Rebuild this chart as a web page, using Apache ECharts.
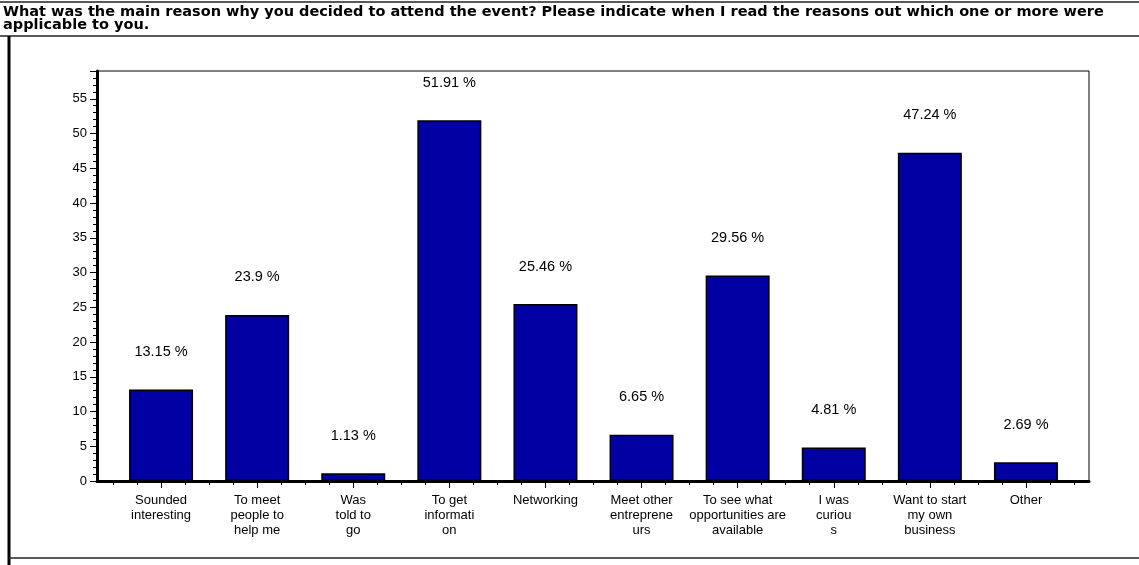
<!DOCTYPE html>
<html>
<head>
<meta charset="utf-8">
<script src="https://cdn.jsdelivr.net/npm/echarts@6/dist/echarts.min.js"></script>
<style>
  html, body { margin: 0; padding: 0; background: #fff; }
  #chart { width: 1139px; height: 565px; }
</style>
</head>
<body>
<div id="chart"></div>
<script>
const titleText = "What was the main reason why you decided to attend the event? Please indicate when I read the reasons out which one or more were\napplicable to you.";
const categories = [
  "Sounded\ninteresting",
  "To meet\npeople to\nhelp me",
  "Was\ntold to\ngo",
  "To get\ninformati\non",
  "Networking",
  "Meet other\nentreprene\nurs",
  "To see what\nopportunities are\navailable",
  "I was\ncuriou\ns",
  "Want to start\nmy own\nbusiness",
  "Other"
];
const percents = [13.15, 23.9, 1.13, 51.91, 25.46, 6.65, 29.56, 4.81, 47.24, 2.69];
const yMax = 59;
const yStep = 5;

const FONT = "'Liberation Sans', Arial, sans-serif";
const chart = echarts.init(document.getElementById("chart"));

// plot frame is 97..1089 wide, categories only fill 113..1074
const frame = { left: 97, top: 71, right: 50, bottom: 84 };
const inner = { left: 113, top: 71, right: 65, bottom: 84 };

const option = {
  animation: false,
  backgroundColor: "#fff",
  title: {
    text: titleText,
    left: 3,
    top: 6,
    padding: 0,
    textStyle: { fontFamily: "'DejaVu Sans', sans-serif", fontSize: 14.5, fontWeight: "bold", color: "#000", lineHeight: 13 }
  },
  graphic: [
    { type: "line", shape: { x1: 0, y1: 2, x2: 1139, y2: 2 }, style: { stroke: "#222", lineWidth: 1.5 } },
    { type: "line", shape: { x1: 0, y1: 36, x2: 1139, y2: 36 }, style: { stroke: "#222", lineWidth: 1.5 } },
    { type: "line", shape: { x1: 9, y1: 36, x2: 9, y2: 565 }, style: { stroke: "#000", lineWidth: 3 } },
    { type: "line", shape: { x1: 9, y1: 558, x2: 1139, y2: 558 }, style: { stroke: "#222", lineWidth: 1.5 } }
  ],
  grid: [
    Object.assign({ show: true, borderColor: "#000", borderWidth: 1, backgroundColor: "transparent" }, frame),
    inner,
    inner
  ],
  xAxis: [
    {
      gridIndex: 0, type: "value", min: 0, max: 1,
      axisLine: { show: true, onZero: false, lineStyle: { color: "#000", width: 3 } },
      axisTick: { show: false }, axisLabel: { show: false }, splitLine: { show: false }
    },
    {
      gridIndex: 1, type: "category", data: categories,
      axisLine: { show: false },
      axisTick: { show: true, alignWithLabel: true, length: 7, lineStyle: { color: "#000" } },
      axisLabel: { fontFamily: FONT, fontSize: 13, color: "#000", lineHeight: 15, margin: 12, interval: 0 },
      splitLine: { show: false }
    },
    {
      gridIndex: 2, type: "value", min: -0.5, max: 9.5, interval: 0.25,
      axisLine: { show: false },
      axisTick: { show: true, length: 4, lineStyle: { color: "#000" } },
      axisLabel: { show: false }, splitLine: { show: false }
    }
  ],
  yAxis: [
    {
      gridIndex: 0, type: "value", min: 0, max: yMax, interval: yStep,
      axisLine: { show: true, lineStyle: { color: "#000", width: 3 } },
      axisTick: { show: true, length: 7, lineStyle: { color: "#000" } },
      minorTick: { show: true, splitNumber: 5, length: 4, lineStyle: { color: "#000" } },
      axisLabel: {
        fontFamily: FONT, fontSize: 13, color: "#000", margin: 10,
        formatter: (v) => (v % yStep === 0 ? v : "")
      },
      splitLine: { show: false }
    },
    { gridIndex: 1, type: "value", min: 0, max: yMax, show: false },
    { gridIndex: 2, type: "value", min: 0, max: yMax, show: false }
  ],
  series: [
    {
      type: "bar",
      xAxisIndex: 1,
      yAxisIndex: 1,
      data: percents,
      barWidth: 64,
      itemStyle: { color: "#0000A3", borderColor: "#000", borderWidth: 1.5 },
      label: {
        show: true,
        position: "top",
        distance: 30,
        fontFamily: FONT,
        fontSize: 14.5,
        color: "#000",
        formatter: (p) => p.value + " %"
      }
    }
  ]
};

chart.setOption(option);
</script>
</body>
</html>
